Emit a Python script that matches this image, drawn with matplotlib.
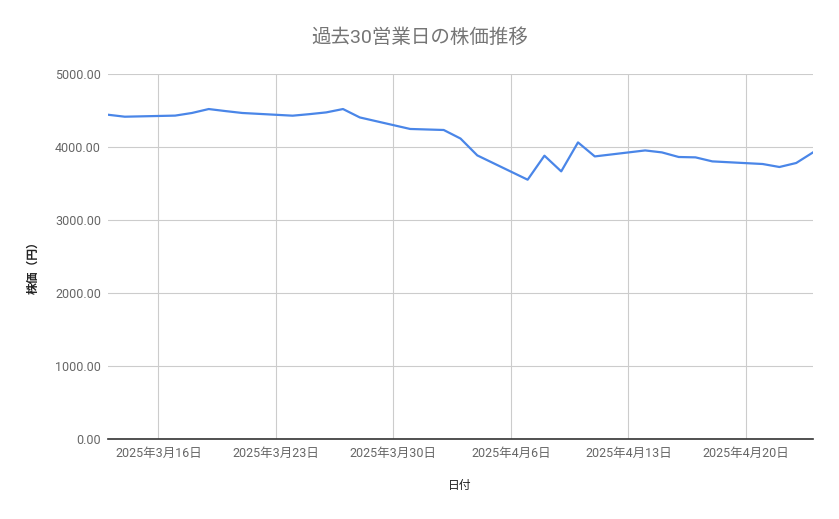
import datetime as dt
import matplotlib
matplotlib.use("Agg")
import matplotlib.pyplot as plt
from matplotlib.ticker import FuncFormatter, MultipleLocator

plt.rcParams['font.family'] = ['Roboto', 'Noto Sans CJK JP', 'DejaVu Sans']

dates = ["2025-03-13", "2025-03-14", "2025-03-17", "2025-03-18", "2025-03-19",
         "2025-03-20", "2025-03-21", "2025-03-24", "2025-03-25", "2025-03-26",
         "2025-03-27", "2025-03-28", "2025-03-31", "2025-04-01", "2025-04-02",
         "2025-04-03", "2025-04-04", "2025-04-07", "2025-04-08", "2025-04-09",
         "2025-04-10", "2025-04-11", "2025-04-14", "2025-04-15", "2025-04-16",
         "2025-04-17", "2025-04-18", "2025-04-21", "2025-04-22", "2025-04-23",
         "2025-04-24"]
prices = [4442, 4415, 4430, 4466, 4520,
          4492, 4466, 4429, 4450, 4474,
          4520, 4405, 4247, 4240, 4233,
          4116, 3885, 3552, 3881, 3666,
          4063, 3871, 3953, 3926, 3863,
          3858, 3803, 3767, 3726, 3781,
          3926]
tick_dates = ["2025-03-16", "2025-03-23", "2025-03-30", "2025-04-06",
              "2025-04-13", "2025-04-20"]

x = [dt.datetime.strptime(d, "%Y-%m-%d") for d in dates]
ticks = [dt.datetime.strptime(d, "%Y-%m-%d") for d in tick_dates]

fig = plt.figure(figsize=(8.39, 5.19), dpi=100)
ax = fig.add_axes([108 / 839, 80 / 519, 705 / 839, 365 / 519])

ax.plot(x, prices, color='#4a86e8', linewidth=1.6, solid_joinstyle='round')

ax.set_xlim(x[0], x[-1])
ax.set_ylim(0, 5000)
ax.yaxis.set_major_locator(MultipleLocator(1000))
ax.yaxis.set_major_formatter(FuncFormatter(lambda v, p: f"{v:.2f}"))
ax.set_xticks(ticks)
ax.set_xticklabels([f"{t.year}年{t.month}月{t.day}日" for t in ticks])

ax.grid(True, color='#cccccc', linewidth=0.8)
ax.set_axisbelow(True)
for s in ['top', 'right', 'left']:
    ax.spines[s].set_visible(False)
ax.spines['bottom'].set_color('#333333')
ax.spines['bottom'].set_linewidth(1.2)
ax.spines['bottom'].set_zorder(3)
ax.tick_params(axis='both', length=0, labelsize=9, labelcolor='#666666')
ax.tick_params(axis='x', pad=6)
ax.tick_params(axis='y', pad=5)

fig.text(0.5, 1 - 38 / 519, "過去30営業日の株価推移", ha='center', va='center',
         fontsize=14, color='#757575')
fig.text(460 / 839, 1 - 486 / 519, "日付", ha='center', va='center',
         fontsize=8.5, color='#222222')
fig.text(33 / 839, 1 - 265 / 519, "株価（円）", ha='center', va='center',
         rotation=90, fontsize=8.5, color='#222222', fontweight='bold',
         family=['Noto Sans CJK JP', 'DejaVu Sans'])

fig.savefig("out.png", dpi=100)
